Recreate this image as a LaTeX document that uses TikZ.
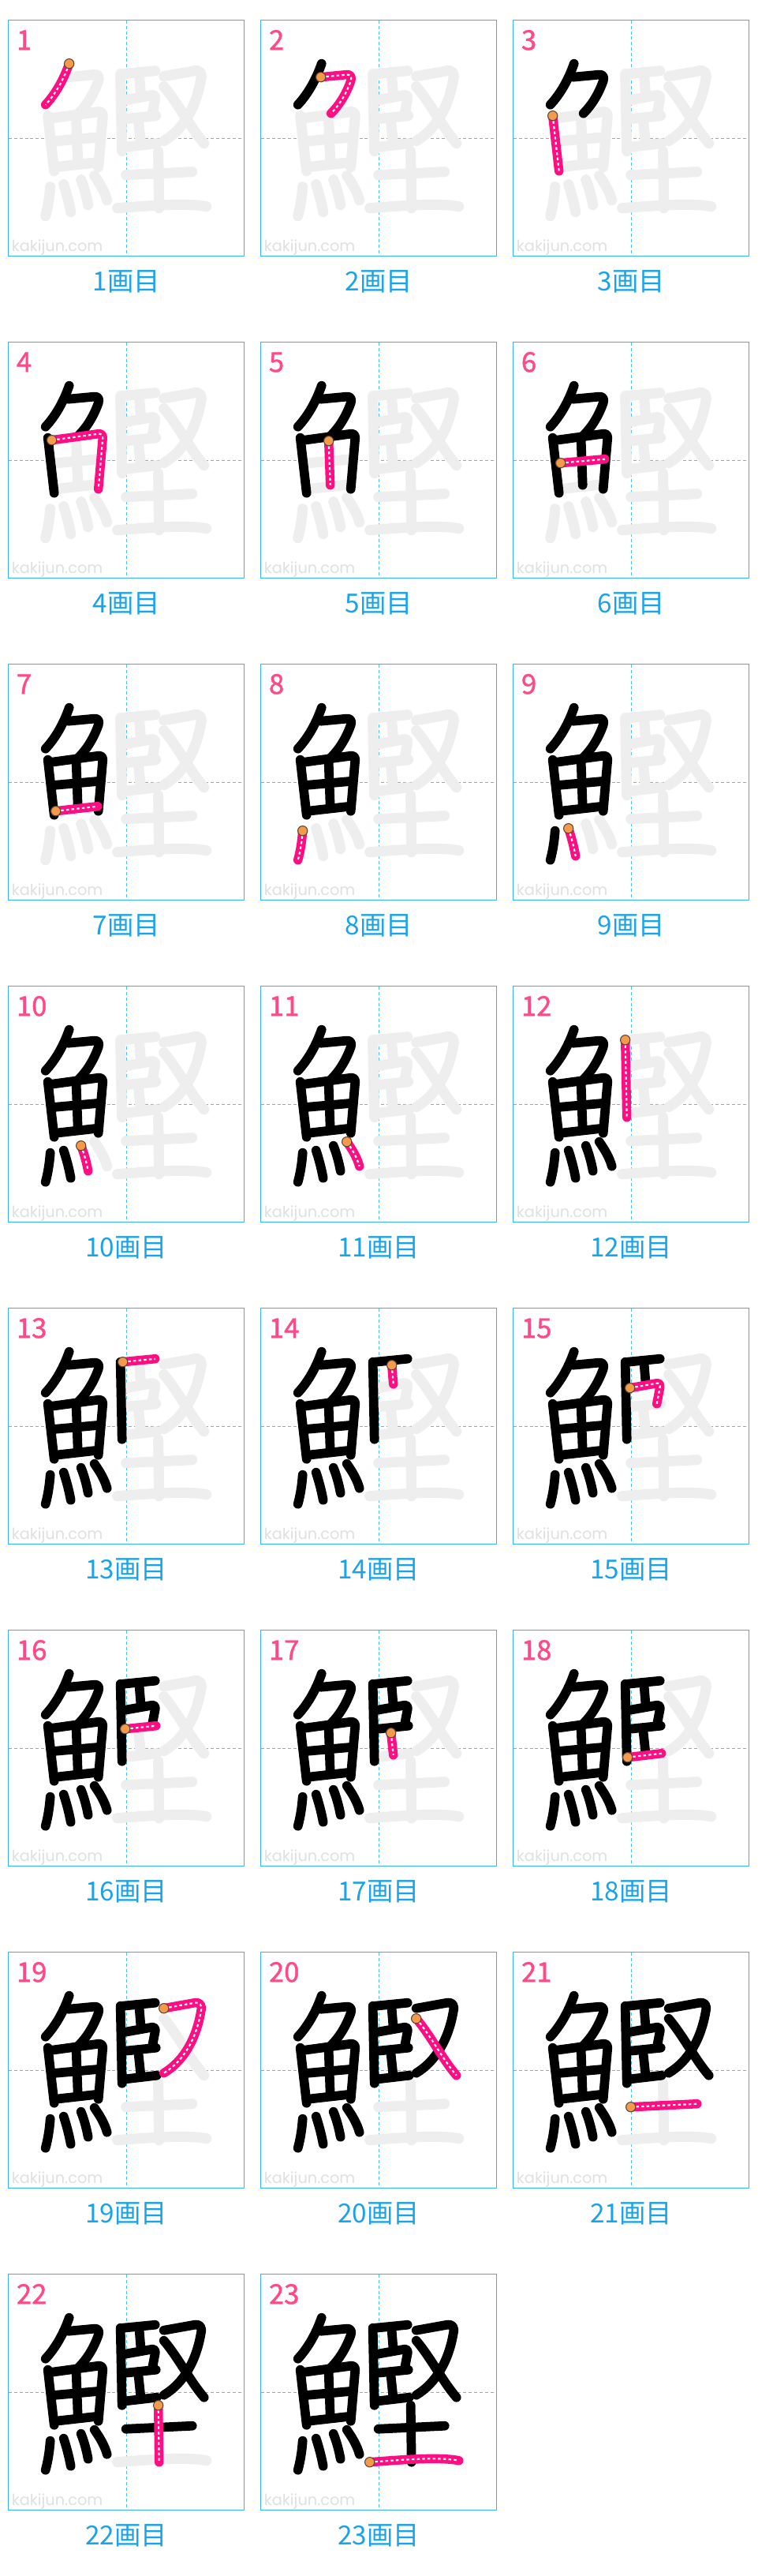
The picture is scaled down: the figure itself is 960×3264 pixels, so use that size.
\documentclass[tikz,border=0pt]{standalone}
\usepackage{fontspec}
\newfontfamily\jp{Noto Sans CJK JP}
\newfontfamily\jpnum{Noto Sans CJK JP}[FakeBold=1.2]
\newfontfamily\wmfont{Poppins}
\definecolor{boxblue}{HTML}{33B5EE}
\definecolor{lineblue}{HTML}{4CC2F2}
\definecolor{labblue}{HTML}{1AA3E8}
\definecolor{numpink}{HTML}{FF4A86}
\definecolor{strokepink}{HTML}{FF0D82}
\definecolor{ghost}{HTML}{EEEEEE}
\definecolor{dotorange}{HTML}{F59A4A}
\definecolor{dotedge}{HTML}{5A4636}
\definecolor{wmgray}{HTML}{E0E0E0}
\newcommand\defstk[3]{\expandafter\def\csname stk#1\endcsname{#2 #3}\expandafter\def\csname sst#1\endcsname{#2}}
\newcommand\drawstkaux[2]{\draw[#2] #1;}
\newcommand\drawstk[2]{\edef\tmppath{\csname stk#2\endcsname}\expandafter\drawstkaux\expandafter{\tmppath}{#1}}
\newcommand\dotstkaux[1]{\filldraw[startdot] #1 circle[radius=4.6pt];}
\newcommand\dotstk[1]{\edef\tmpstart{\csname sst#1\endcsname}\expandafter\dotstkaux\expandafter{\tmpstart}}
\defstk{1}{(77,55)}{.. controls (70,75) and (60,93) .. (47,107)}
\defstk{2}{(76,72)}{-- (108,69) .. controls (113,68) and (116,71) .. (114,77) .. controls (108,94) and (99,108) .. (89,118)}
\defstk{3}{(50,121)}{-- (58,191)}
\defstk{4}{(55,124)}{-- (114,116) .. controls (118,115.5) and (120,118) .. (119.5,122) -- (114,186)}
\defstk{5}{(86,125)}{-- (88,181)}
\defstk{6}{(60,153)}{-- (116,148)}
\defstk{7}{(60,186)}{-- (113,180)}
\defstk{8}{(53,211)}{.. controls (52,225) and (50,237) .. (47,248)}
\defstk{9}{(70,208)}{.. controls (74,220) and (77,232) .. (79,243)}
\defstk{10}{(92,202)}{.. controls (96,212) and (99,223) .. (101,234)}
\defstk{11}{(109,197)}{.. controls (116,207) and (122,217) .. (125,228)}
\defstk{12}{(142,68)}{-- (144,166)}
\defstk{13}{(145,68)}{-- (186,64)}
\defstk{14}{(166,72)}{-- (168,96)}
\defstk{15}{(148,101)}{-- (182,95) .. controls (185,94.5) and (186.5,97) .. (186,100) -- (182,121)}
\defstk{16}{(148,125)}{-- (187,121)}
\defstk{17}{(165,130)}{-- (168,158)}
\defstk{18}{(145,161)}{-- (188,156)}
\defstk{19}{(197,71)}{-- (236,64) .. controls (243,63) and (246,67) .. (244,75) .. controls (238,110) and (222,138) .. (197,153)}
\defstk{20}{(197,84)}{.. controls (215,105) and (230,135) .. (248,156)}
\defstk{21}{(149,196)}{-- (233,192)}
\defstk{22}{(190,166)}{-- (191,238)}
\defstk{23}{(138,238)}{.. controls (180,235) and (225,231) .. (251,236)}
\tikzset{
  cellbox/.style={draw=boxblue, line width=1.1pt},
  centerline/.style={draw=lineblue, line width=0.9pt, dash pattern=on 3pt off 2.2pt},
  ghoststroke/.style={draw=ghost, line width=9.8pt, line cap=round, line join=round},
  inkstroke/.style={draw=black, line width=8.8pt, line cap=round, line join=round},
  pinkstroke/.style={draw=strokepink, line width=8.6pt, line cap=round, line join=round},
  pinkdash/.style={draw=white, line width=1.6pt, dash pattern=on 2.6pt off 2.4pt, line join=round},
  startdot/.style={fill=dotorange, draw=dotedge, line width=0.8pt},
  numlab/.style={text=numpink, font=\jpnum\fontsize{26}{26}\selectfont, inner sep=0pt},
  steplab/.style={text=labblue, font=\jp\fontsize{25}{25}\selectfont, inner sep=0pt},
  wm/.style={text=wmgray, font=\wmfont\fontsize{14.5}{14.5}\selectfont, inner sep=0pt}
}
\begin{document}
\begin{tikzpicture}[x=0.75pt,y=-0.75pt]
\fill[white] (0,0) rectangle (960,3264);
\foreach \n in {1,...,23}{
  \pgfmathtruncatemacro\col{mod(\n-1,3)}
  \pgfmathtruncatemacro\row{floor((\n-1)/3)}
  \begin{scope}[shift={(10.7+320*\col,25.7+408*\row)}]
    \node[wm, anchor=base west] (wm\n) at (4,292.6) {kakijun.com};
    \draw[centerline] (149.5,0) -- (149.5,299);
    \draw[centerline] (0,149.5) -- (299,149.5);
    \draw[cellbox] (0,0) rectangle (299,299);
    \node[numlab, anchor=base west] (num\n) at (10,37.5) {\n};
    \node[steplab, anchor=base] (lab\n) at (149.5,342.6) {{\n}画目};
    \foreach \k in {1,...,23}{\ifnum\k>\n \drawstk{ghoststroke}{\k}\fi}
    \foreach \k in {1,...,23}{\ifnum\k<\n \drawstk{inkstroke}{\k}\fi}
    \drawstk{pinkstroke}{\n}
    \drawstk{pinkdash}{\n}
    \dotstk{\n}
  \end{scope}
}
\end{tikzpicture}
\end{document}
